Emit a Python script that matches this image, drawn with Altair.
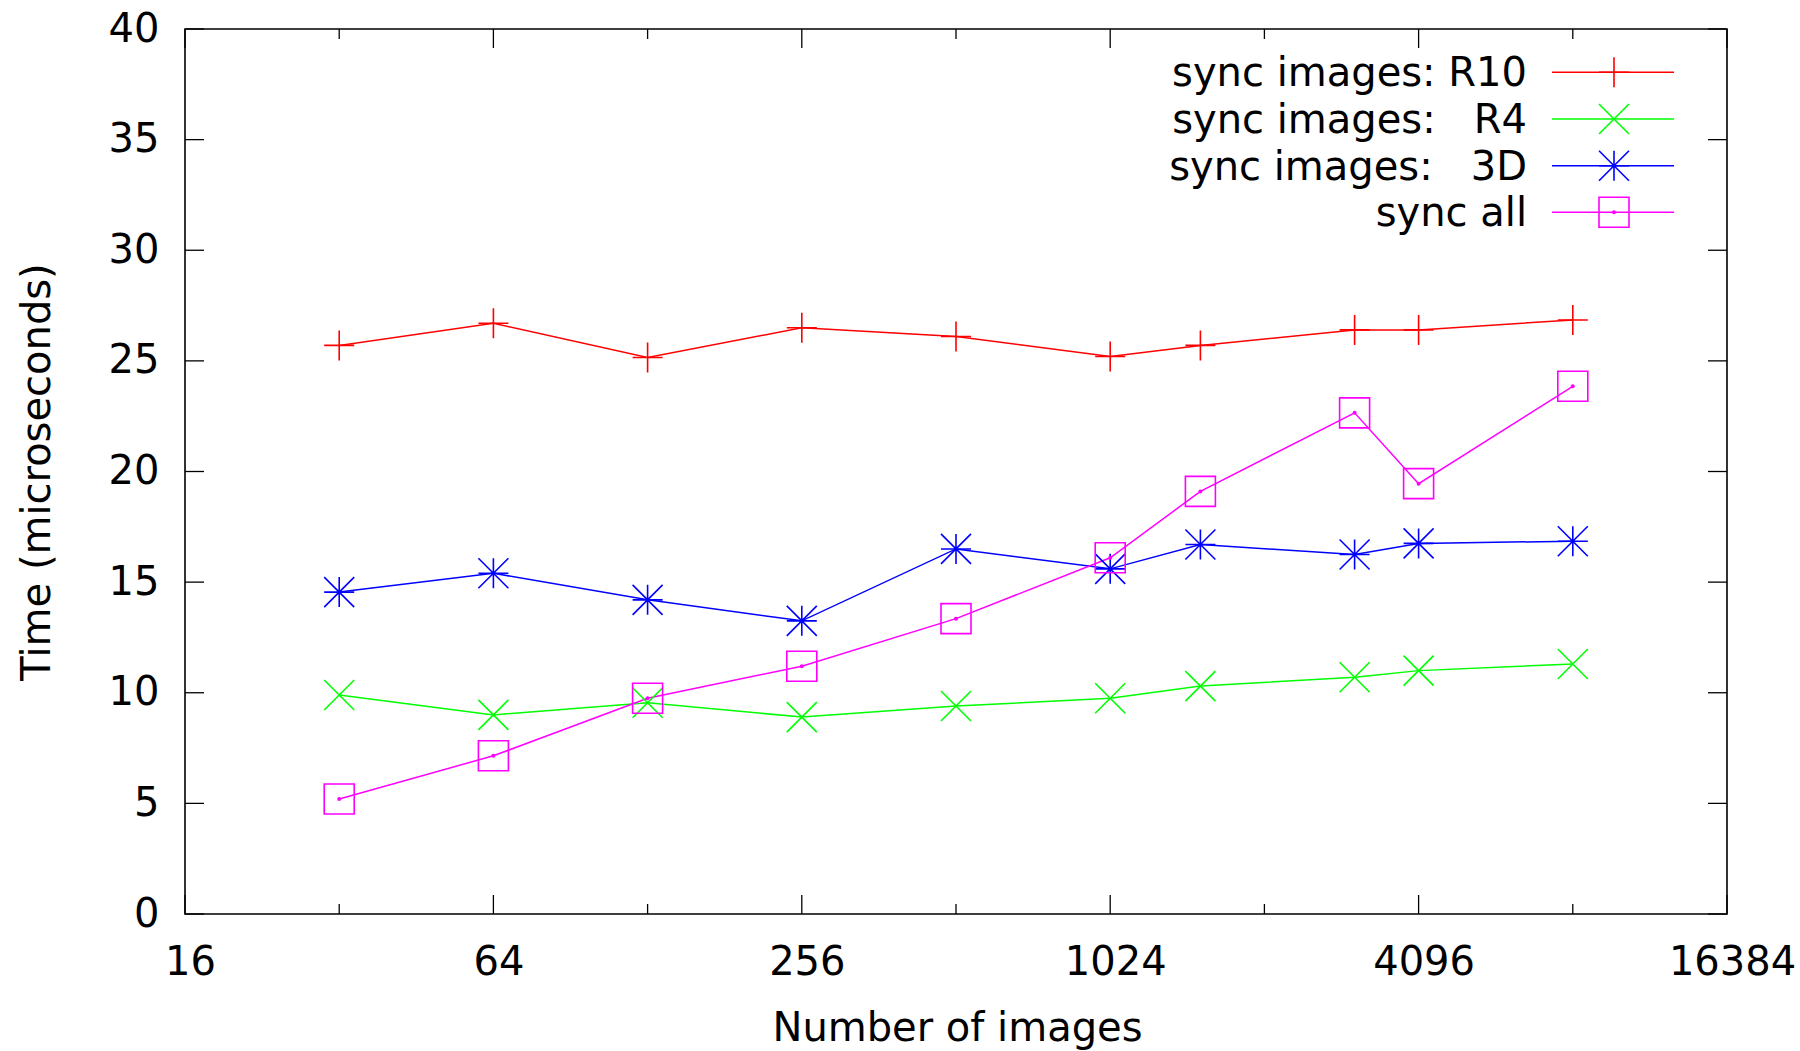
import altair as alt
import pandas as pd

# ---- data ----
x_images = [32, 64, 128, 256, 512, 1024, 1536, 3072, 4096, 8192]
r10 = [25.7, 26.7, 25.15, 26.5, 26.1, 25.2, 25.7, 26.4, 26.4, 26.85]
r4 = [9.9, 9.0, 9.55, 8.9, 9.4, 9.75, 10.3, 10.7, 11.0, 11.3]
d3 = [14.55, 15.4, 14.2, 13.25, 16.5, 15.6, 16.7, 16.25, 16.75, 16.85]
sync_all = [5.2, 7.15, 9.75, 11.2, 13.35, 16.1, 19.1, 22.65, 19.45, 23.85]

series_keys = ["R10", "R4", "3D", "all"]
legend_labels = ["sync images: R10",
                 "sync images:\u00a0\u00a0\u00a0R4",
                 "sync images:\u00a0\u00a0\u00a03D",
                 "sync all"]
colors = ["#ff0000", "#00ff00", "#0000ff", "#ff00ff"]
shapes = ["M-1,0L1,0M0,-1L0,1",
          "M-1,-1L1,1M-1,1L1,-1",
          "M-1,0L1,0M0,-1L0,1M-1,-1L1,1M-1,1L1,-1",
          "square"]

x_major = [16, 64, 256, 1024, 4096, 16384]
x_minor = [32, 128, 512, 2048, 8192]
y_ticks = [0, 5, 10, 15, 20, 25, 30, 35, 40]

values = {"R10": r10, "R4": r4, "3D": d3, "all": sync_all}
rows = []
for k in series_keys:
    for xv, yv in zip(x_images, values[k]):
        rows.append({"series": k, "images": xv, "time": yv})
df = pd.DataFrame(rows)

W, H = 1542, 885
FONT = "DejaVu Sans"
FS = 40

x_enc = alt.X("images:Q",
              scale=alt.Scale(type="log", base=2, domain=[16, 16384], nice=False),
              axis=alt.Axis(values=x_major, format="d", ticks=False, tickSize=0,
                            domain=False, grid=False, labelFontSize=FS,
                            labelPadding=60, labelBaseline="alphabetic", labelOffset=5,
                            labelFlush=False, labelOverlap=False, labelColor="black",
                            labelFont=FONT,
                            title="Number of images", titleFontSize=FS,
                            titleFont=FONT, titleFontWeight="normal",
                            titleX=W / 2 + 1, titleY=126, titleBaseline="alphabetic",
                            titleAlign="center", titleColor="black"))
y_enc = alt.Y("time:Q",
              scale=alt.Scale(domain=[0, 40], nice=False, zero=True),
              axis=alt.Axis(values=y_ticks, ticks=False, tickSize=0, domain=False,
                            grid=False, labelFontSize=FS, labelPadding=26,
                            labelFlush=False, labelOverlap=False, labelColor="black",
                            labelFont=FONT,
                            title="Time (microseconds)", titleFontSize=FS,
                            titleFont=FONT, titleFontWeight="normal",
                            titleAngle=270, titleX=-136, titleY=H / 2,
                            titleBaseline="alphabetic", titleAlign="center",
                            titleColor="black"))
color_enc = alt.Color("series:N", scale=alt.Scale(domain=series_keys, range=colors),
                      legend=None)
shape_enc = alt.Shape("series:N", scale=alt.Scale(domain=series_keys, range=shapes),
                      legend=None)

base = alt.Chart(df)
lines = base.mark_line(strokeWidth=1.5).encode(x=x_enc, y=y_enc, color=color_enc,
                                               order="images:Q")
points = base.mark_point(filled=False, size=900, strokeWidth=1.6, opacity=1).encode(
    x=x_enc, y=y_enc, color=color_enc, shape=shape_enc)
dots = base.transform_filter(alt.datum.series == "all").mark_circle(
    size=16, color="#ff00ff", opacity=1).encode(x=x_enc, y=y_enc)

# inward tick marks on all four sides (gnuplot style)
MAJ, MIN = 19, 10
xmaj = alt.Chart(pd.DataFrame({"images": x_major}))
xmin = alt.Chart(pd.DataFrame({"images": x_minor}))
ytk = alt.Chart(pd.DataFrame({"time": y_ticks}))
tick_style = dict(color="black", strokeWidth=1.3)
tick_layers = [
    xmaj.mark_rule(**tick_style).encode(x=x_enc, y=alt.value(H), y2=alt.value(H - MAJ)),
    xmaj.mark_rule(**tick_style).encode(x=x_enc, y=alt.value(0), y2=alt.value(MAJ)),
    xmin.mark_rule(**tick_style).encode(x=x_enc, y=alt.value(H), y2=alt.value(H - MIN)),
    xmin.mark_rule(**tick_style).encode(x=x_enc, y=alt.value(0), y2=alt.value(MIN)),
    ytk.mark_rule(**tick_style).encode(y=y_enc, x=alt.value(0), x2=alt.value(MAJ)),
    ytk.mark_rule(**tick_style).encode(y=y_enc, x=alt.value(W), x2=alt.value(W - MAJ)),
]

# legend (top right, text left of the sample)
leg_df = pd.DataFrame({"series": series_keys, "label": legend_labels})
leg_rows_y = [43.3, 90.0, 136.7, 183.3]
TEXT_X, L_X1, L_X2, M_X = 1342, 1367, 1489, 1429
legend_layers = []
for k, lab, col, shp, ly in zip(series_keys, legend_labels, colors, shapes, leg_rows_y):
    one = alt.Chart(leg_df).transform_filter(alt.datum.series == k)
    legend_layers.append(one.mark_text(align="right", baseline="alphabetic",
                                       font=FONT, fontSize=40, color="black").encode(
        text="label:N", x=alt.value(TEXT_X), y=alt.value(ly + 14)))
    legend_layers.append(one.mark_rule(color=col, strokeWidth=1.5).encode(
        x=alt.value(L_X1), x2=alt.value(L_X2), y=alt.value(ly)))
    legend_layers.append(one.mark_point(shape=shp, filled=False, size=900,
                                        strokeWidth=1.6, color=col, opacity=1).encode(
        x=alt.value(M_X), y=alt.value(ly)))
    if k == "all":
        legend_layers.append(one.mark_circle(size=16, color=col, opacity=1).encode(
            x=alt.value(M_X), y=alt.value(ly)))

chart = alt.layer(lines, points, dots, *tick_layers, *legend_layers).properties(
    width=W, height=H,
    autosize=alt.AutoSizeParams(type="none"),
    padding={"left": 185, "top": 29, "right": 1800 - 185 - W, "bottom": 1051 - 29 - H},
    background="white",
).configure_view(stroke="black", strokeWidth=1.6)

chart.save("out.html", embed_options={"renderer": "svg", "actions": False})
